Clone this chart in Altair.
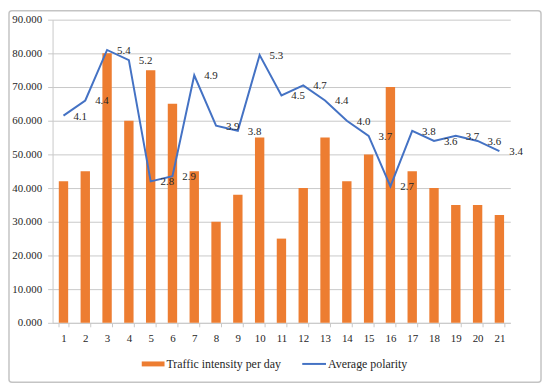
import altair as alt
import pandas as pd

# ---- data ----
days = list(range(1, 22))
traffic = [42000, 45000, 80000, 60000, 75000, 65000, 45000, 30000, 38000, 55000,
           25000, 40000, 55000, 42000, 50000, 70000, 45000, 40000, 35000, 35000, 32000]
polarity = [4.1, 4.4, 5.4, 5.2, 2.8, 2.9, 4.9, 3.9, 3.8, 5.3,
            4.5, 4.7, 4.4, 4.0, 3.7, 2.7, 3.8, 3.6, 3.7, 3.6, 3.4]
left_ticks = [0, 10000, 20000, 30000, 40000, 50000, 60000, 70000, 80000, 90000]
right_ticks = [0, 1, 2, 3, 4, 5, 6]
legend_labels = ["Traffic intensity per day", "Average polarity"]

df = pd.DataFrame({"day": days, "traffic": traffic, "polarity": polarity})
one = pd.DataFrame({"k": [0]})

FONT = "'Liberation Serif', 'DejaVu Serif', 'Times New Roman', serif"
TXT = "#262626"
ORANGE = "#ED7D31"
BLUE = "#4472C4"
GRID = "#c8c8c8"
W, H = 462, 306

xenc = alt.X(
    "day:O", sort=None, title=None,
    scale=alt.Scale(paddingInner=0.57, paddingOuter=0.285),
    axis=alt.Axis(labelAngle=0, tickBand="extent", tickSize=4, labelPadding=6,
                  grid=False, domainColor=GRID, tickColor=GRID),
)

bars = alt.Chart(df).mark_bar(color=ORANGE).encode(
    x=xenc,
    y=alt.Y("traffic:Q", title=None,
            scale=alt.Scale(domain=[0, 90000], nice=False),
            axis=alt.Axis(values=left_ticks, grid=True, gridColor=GRID,
                          labelExpr="format(datum.value/1000, '.3f')",
                          tickSize=5, labelPadding=6, domainColor=GRID, tickColor=GRID)),
)

line = alt.Chart(df).mark_line(color=BLUE, strokeWidth=2).encode(
    x=xenc,
    y=alt.Y("polarity:Q", title=None,
            scale=alt.Scale(domain=[0, 6], nice=False),
            axis=alt.Axis(orient="right", values=right_ticks, format=".1f", grid=False,
                          tickSize=5, labelPadding=6, domainColor=GRID, tickColor=GRID)),
)

labels = alt.Chart(df).mark_text(
    align="left", baseline="middle", dx=10, dy=1, font=FONT, fontSize=11, color=TXT
).encode(
    x=xenc,
    y=alt.Y("polarity:Q", axis=None),
    text=alt.Text("polarity:Q", format=".1f"),
)

frame = alt.Chart(one).mark_rect(
    filled=False, stroke="#c4c4c4", strokeWidth=1.5, cornerRadius=3
).encode(x=alt.value(-44), x2=alt.value(493), y=alt.value(-9), y2=alt.value(366))

leg_bar = alt.Chart(one).mark_rect(color=ORANGE).encode(
    x=alt.value(90), x2=alt.value(113), y=alt.value(345), y2=alt.value(350))
leg_line = alt.Chart(one).mark_rule(color=BLUE, strokeWidth=2).encode(
    x=alt.value(252), x2=alt.value(276), y=alt.value(347.5))
leg_t1 = alt.Chart(one).mark_text(
    align="left", baseline="middle", font=FONT, fontSize=12, color=TXT
).encode(x=alt.value(115), y=alt.value(348), text=alt.value(legend_labels[0]))
leg_t2 = alt.Chart(one).mark_text(
    align="left", baseline="middle", font=FONT, fontSize=12, color=TXT
).encode(x=alt.value(278), y=alt.value(348), text=alt.value(legend_labels[1]))

chart = alt.layer(
    bars, alt.layer(line, labels), frame, leg_bar, leg_line, leg_t1, leg_t2
).resolve_scale(y="independent").properties(
    width=W, height=H, padding=0
).configure_view(stroke=None).configure_axis(
    labelFont=FONT, labelFontSize=11, labelColor=TXT
)

chart.save("out.html", embed_options={"renderer": "svg", "actions": False})
